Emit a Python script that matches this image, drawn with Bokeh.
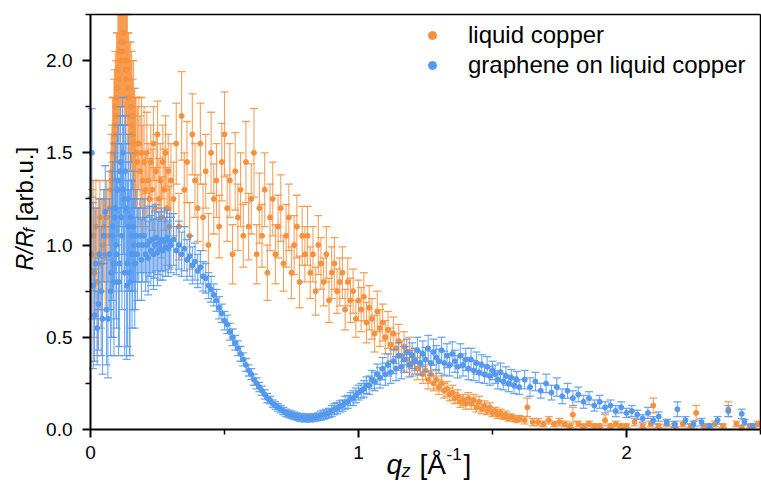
import numpy as np
from bokeh.plotting import figure
from bokeh.models import (Range1d, FixedTicker, NumeralTickFormatter, Label,
                          Legend, LegendItem, ColumnDataSource, LinearAxis)
from bokeh.embed import file_html
from bokeh.resources import INLINE

# ---------------- data ----------------
# q grid, low-q part (shared by both series)
q_a = [0.005, 0.01, 0.015, 0.02, 0.025, 0.03, 0.035, 0.04, 0.045, 0.05,
       0.055, 0.06, 0.065, 0.07, 0.075, 0.08, 0.085, 0.09, 0.095, 0.10,
       0.105, 0.11, 0.115, 0.12, 0.125, 0.13, 0.135, 0.14, 0.145, 0.15,
       0.155, 0.16, 0.165, 0.17, 0.175, 0.18, 0.185, 0.19, 0.195, 0.20,
       0.205, 0.21, 0.215, 0.22, 0.225, 0.23, 0.235, 0.24, 0.245, 0.25,
       0.255, 0.26, 0.265, 0.27, 0.275, 0.28, 0.285, 0.29, 0.295, 0.30]
# extra q points inside the first peak (shared by both series)
q_pk = [0.0775, 0.0825, 0.0875, 0.0925, 0.0975, 0.1025, 0.1075, 0.1125, 0.1175, 0.1225,
        0.1275, 0.1325, 0.1375, 0.1425, 0.1475, 0.1525, 0.1575, 0.1625, 0.1675]
# q grid, mid part (shared by both series)
q_b = [0.31, 0.32, 0.33, 0.34, 0.35, 0.36, 0.37, 0.38, 0.39, 0.40,
       0.41, 0.42, 0.43, 0.44, 0.45, 0.46, 0.47, 0.48, 0.49, 0.50,
       0.51, 0.52, 0.53, 0.54, 0.55, 0.56, 0.57, 0.58, 0.59, 0.60,
       0.61, 0.62, 0.63, 0.64, 0.65, 0.66, 0.67, 0.68, 0.69, 0.70,
       0.71, 0.72, 0.73, 0.74, 0.75, 0.76, 0.77, 0.78, 0.79, 0.80,
       0.81, 0.82, 0.83, 0.84, 0.85, 0.86, 0.87, 0.88, 0.89, 0.90,
       0.91, 0.92, 0.93, 0.94, 0.95, 0.96, 0.97, 0.98, 0.99, 1.00,
       1.01, 1.02, 1.03, 1.04, 1.05, 1.06, 1.07, 1.08, 1.09, 1.10,
       1.11, 1.12, 1.13, 1.14, 1.15, 1.16, 1.17, 1.18, 1.19, 1.20,
       1.21, 1.22, 1.23, 1.24, 1.25, 1.26, 1.27, 1.28, 1.29, 1.30,
       1.31, 1.32, 1.33, 1.34, 1.35, 1.36, 1.37, 1.38, 1.39, 1.40,
       1.41, 1.42, 1.43, 1.44, 1.45, 1.46, 1.47, 1.48, 1.49, 1.50,
       1.51, 1.52, 1.53, 1.54, 1.55, 1.56, 1.57, 1.58, 1.59, 1.60]

# liquid copper
cu_a = [0.95, 1.05, 0.85, 1.10, 0.80, 0.95, 1.15, 0.90, 1.00, 1.10,
        0.95, 1.15, 1.05, 1.20, 1.30, 1.40, 1.55, 1.65, 1.70, 1.85,
        1.90, 2.00, 2.10, 2.05, 2.15, 1.95, 2.00, 1.85, 1.80, 1.75,
        1.65, 1.70, 1.55, 1.50, 1.45, 1.55, 1.40, 1.50, 1.35, 1.45,
        1.30, 1.50, 1.35, 1.25, 1.45, 1.30, 1.55, 1.20, 1.40, 1.60,
        1.25, 1.35, 1.15, 1.45, 1.30, 1.50, 1.20, 1.40, 1.10, 1.35]
cu_a_err = [0.35, 0.30, 0.35, 0.25, 0.40, 0.30, 0.20, 0.35, 0.25, 0.20,
            0.30, 0.20, 0.25, 0.20, 0.20, 0.25, 0.25, 0.30, 0.30, 0.30,
            0.35, 0.35, 0.35, 0.35, 0.35, 0.35, 0.30, 0.30, 0.30, 0.35,
            0.35, 0.30, 0.30, 0.30, 0.30, 0.25, 0.30, 0.30, 0.30, 0.30,
            0.20, 0.22, 0.20, 0.22, 0.20, 0.22, 0.20, 0.22, 0.20, 0.18,
            0.22, 0.20, 0.22, 0.20, 0.22, 0.20, 0.22, 0.20, 0.22, 0.20]
cu_pk = [1.35, 1.50, 1.60, 1.75, 1.80, 1.95, 2.05, 2.00, 2.15, 2.10,
         2.00, 1.90, 1.95, 1.80, 1.70, 1.75, 1.60, 1.55, 1.50]
cu_pk_err = [0.25, 0.30, 0.30, 0.30, 0.35, 0.35, 0.35, 0.35, 0.35, 0.35,
             0.35, 0.35, 0.30, 0.35, 0.30, 0.30, 0.30, 0.30, 0.30]
cu_b = [1.25, 1.55, 1.10, 1.70, 1.30, 1.45, 1.05, 1.60, 1.35, 1.20,
        1.55, 1.15, 1.40, 1.00, 1.50, 1.25, 1.35, 1.10, 1.45, 1.60,
        1.20, 1.35, 0.95, 1.40, 1.15, 1.30, 1.05, 1.45, 1.10, 1.25,
        1.50, 0.95, 1.20, 1.05, 1.30, 0.85, 1.15, 1.25, 0.95, 1.10,
        1.20, 0.90, 1.05, 1.15, 0.85, 1.00, 1.10, 0.80, 1.05, 0.95,
        1.05, 0.85, 0.95, 0.75, 1.00, 0.90, 0.80, 0.95, 0.70, 0.85,
        0.90, 0.75, 0.80, 0.85, 0.65, 0.80, 0.70, 0.75, 0.60, 0.70,
        0.65, 0.72, 0.58, 0.66, 0.60, 0.52, 0.64, 0.55, 0.58, 0.50,
        0.54, 0.46, 0.52, 0.44, 0.48, 0.40, 0.45, 0.38, 0.42, 0.36,
        0.38, 0.33, 0.36, 0.30, 0.32, 0.27, 0.30, 0.25, 0.27, 0.23,
        0.25, 0.21, 0.22, 0.19, 0.20, 0.17, 0.18, 0.15, 0.16, 0.14,
        0.17, 0.14, 0.16, 0.12, 0.15, 0.11, 0.13, 0.10, 0.12, 0.09,
        0.10, 0.08, 0.09, 0.07, 0.08, 0.06, 0.07, 0.06, 0.05, 0.06]
cu_b_err = [0.20, 0.22, 0.18, 0.24, 0.20, 0.22, 0.18, 0.22, 0.20, 0.18,
            0.22, 0.18, 0.20, 0.17, 0.22, 0.19, 0.20, 0.17, 0.21, 0.23,
            0.18, 0.20, 0.16, 0.21, 0.18, 0.20, 0.17, 0.22, 0.18, 0.19,
            0.24, 0.16, 0.19, 0.17, 0.20, 0.15, 0.18, 0.20, 0.16, 0.17,
            0.18, 0.15, 0.17, 0.18, 0.14, 0.16, 0.17, 0.14, 0.16, 0.15,
            0.16, 0.14, 0.15, 0.13, 0.16, 0.14, 0.13, 0.15, 0.12, 0.14,
            0.14, 0.12, 0.13, 0.14, 0.11, 0.13, 0.12, 0.12, 0.10, 0.11,
            0.12, 0.13, 0.11, 0.12, 0.11, 0.10, 0.11, 0.10, 0.10, 0.09,
            0.10, 0.09, 0.09, 0.08, 0.09, 0.08, 0.08, 0.07, 0.08, 0.07,
            0.06, 0.06, 0.06, 0.05, 0.05, 0.05, 0.05, 0.04, 0.05, 0.04,
            0.04, 0.04, 0.04, 0.035, 0.04, 0.03, 0.035, 0.03, 0.03, 0.03,
            0.03, 0.03, 0.03, 0.025, 0.03, 0.025, 0.025, 0.02, 0.025, 0.02,
            0.02, 0.02, 0.02, 0.015, 0.02, 0.015, 0.015, 0.015, 0.01, 0.015]
q_cu_tail = [1.62, 1.63, 1.65, 1.67, 1.69, 1.71, 1.73, 1.75, 1.77, 1.79,
             1.80, 1.82, 1.84, 1.86, 1.88, 1.90, 1.92, 1.94, 1.96, 1.98,
             2.00, 2.03, 2.06, 2.09, 2.10, 2.12, 2.15, 2.18, 2.21, 2.24,
             2.26, 2.29, 2.33, 2.36, 2.38, 2.41, 2.43, 2.46, 2.49]
cu_tail = [0.05, 0.12, 0.04, 0.04, 0.03, 0.05, 0.03, 0.04, 0.03, 0.02,
           0.08, 0.03, 0.02, 0.03, 0.02, 0.02, 0.05, 0.02, 0.03, 0.02,
           0.02, 0.04, 0.02, 0.03, 0.13, 0.02, 0.03, 0.02, 0.03, 0.02,
           0.09, 0.02, 0.03, 0.02, 0.11, 0.03, 0.01, 0.02, 0.03]
cu_tail_err = [0.02, 0.05, 0.02, 0.02, 0.015, 0.02, 0.015, 0.02, 0.015, 0.01,
               0.04, 0.015, 0.01, 0.015, 0.01, 0.01, 0.03, 0.01, 0.015, 0.01,
               0.01, 0.02, 0.01, 0.015, 0.04, 0.01, 0.015, 0.01, 0.015, 0.01,
               0.04, 0.01, 0.015, 0.01, 0.04, 0.015, 0.01, 0.01, 0.015]

# graphene on liquid copper
gr_a = [1.50, 0.78, 0.62, 0.90, 0.55, 0.68, 0.95, 0.75, 0.60, 1.05,
        1.18, 0.65, 0.60, 0.95, 0.75, 1.05, 0.90, 1.15, 1.00, 1.30,
        0.80, 1.40, 1.15, 1.50, 1.25, 1.40, 0.78, 1.25, 0.85, 1.15,
        0.95, 1.10, 0.90, 1.05, 0.95, 1.00, 1.05, 0.92, 1.00, 1.05,
        0.95, 1.00, 0.93, 1.02, 0.97, 1.03, 0.95, 1.00, 1.04, 0.96,
        1.01, 0.98, 1.03, 0.97, 1.02, 0.99, 1.04, 0.98, 1.02, 1.00]
gr_a_err = [0.24, 0.45, 0.25, 0.30, 0.20, 0.25, 0.30, 0.35, 0.30, 0.25,
            0.25, 0.30, 0.32, 0.30, 0.35, 0.35, 0.40, 0.35, 0.40, 0.30,
            0.40, 0.30, 0.40, 0.30, 0.40, 0.30, 0.40, 0.35, 0.45, 0.35,
            0.40, 0.30, 0.35, 0.25, 0.25, 0.20, 0.20, 0.22, 0.20, 0.20,
            0.20, 0.20, 0.20, 0.19, 0.19, 0.18, 0.19, 0.18, 0.18, 0.18,
            0.17, 0.17, 0.17, 0.16, 0.16, 0.16, 0.15, 0.15, 0.15, 0.15]
gr_pk = [0.85, 1.10, 0.80, 1.20, 0.95, 1.35, 0.90, 1.45, 1.05, 1.30,
         0.85, 1.20, 0.90, 1.10, 0.80, 1.05, 0.95, 1.00, 0.90]
gr_pk_err = [0.35, 0.35, 0.40, 0.35, 0.40, 0.30, 0.45, 0.30, 0.40, 0.35,
             0.45, 0.35, 0.45, 0.35, 0.40, 0.30, 0.30, 0.25, 0.25]
gr_b = [1.03, 0.97, 1.00, 0.95, 0.98, 0.92, 0.94, 0.89, 0.91, 0.86,
        0.88, 0.83, 0.82, 0.78, 0.76, 0.73, 0.70, 0.66, 0.63, 0.59,
        0.57, 0.53, 0.50, 0.47, 0.44, 0.41, 0.38, 0.35, 0.32, 0.30,
        0.27, 0.25, 0.23, 0.21, 0.19, 0.17, 0.16, 0.14, 0.13, 0.12,
        0.11, 0.10, 0.09, 0.085, 0.08, 0.075, 0.07, 0.065, 0.065, 0.06,
        0.065, 0.06, 0.065, 0.065, 0.07, 0.075, 0.08, 0.085, 0.09, 0.10,
        0.11, 0.115, 0.125, 0.13, 0.145, 0.15, 0.165, 0.17, 0.185, 0.20,
        0.21, 0.22, 0.24, 0.24, 0.27, 0.26, 0.30, 0.28, 0.33, 0.30,
        0.35, 0.31, 0.37, 0.33, 0.40, 0.34, 0.38, 0.42, 0.35, 0.40,
        0.37, 0.43, 0.36, 0.41, 0.38, 0.44, 0.36, 0.42, 0.39, 0.37,
        0.43, 0.36, 0.40, 0.35, 0.41, 0.37, 0.34, 0.40, 0.35, 0.38,
        0.33, 0.38, 0.32, 0.36, 0.31, 0.35, 0.30, 0.34, 0.29, 0.32,
        0.30, 0.27, 0.31, 0.26, 0.29, 0.25, 0.28, 0.24, 0.27, 0.23]
gr_b_err = [0.14, 0.13, 0.13, 0.12, 0.12, 0.11, 0.11, 0.10, 0.10, 0.09,
            0.09, 0.08, 0.08, 0.07, 0.07, 0.06, 0.06, 0.06, 0.05, 0.05,
            0.05, 0.045, 0.045, 0.04, 0.04, 0.04, 0.035, 0.035, 0.03, 0.03,
            0.03, 0.03, 0.025, 0.025, 0.025, 0.025, 0.02, 0.02, 0.02, 0.02,
            0.02, 0.02, 0.02, 0.02, 0.02, 0.02, 0.02, 0.02, 0.02, 0.02,
            0.02, 0.02, 0.02, 0.02, 0.02, 0.025, 0.025, 0.025, 0.025, 0.03,
            0.03, 0.03, 0.03, 0.03, 0.035, 0.035, 0.035, 0.04, 0.04, 0.04,
            0.04, 0.045, 0.045, 0.05, 0.05, 0.05, 0.055, 0.055, 0.06, 0.06,
            0.06, 0.06, 0.065, 0.065, 0.07, 0.065, 0.07, 0.07, 0.065, 0.07,
            0.07, 0.07, 0.065, 0.07, 0.065, 0.07, 0.065, 0.07, 0.065, 0.065,
            0.07, 0.065, 0.065, 0.06, 0.065, 0.06, 0.06, 0.065, 0.06, 0.06,
            0.06, 0.06, 0.055, 0.06, 0.055, 0.055, 0.05, 0.055, 0.05, 0.05,
            0.05, 0.05, 0.05, 0.045, 0.05, 0.045, 0.045, 0.045, 0.045, 0.04]
q_gr_tail = [1.62, 1.64, 1.66, 1.68, 1.70, 1.72, 1.74, 1.76, 1.78, 1.80,
             1.82, 1.84, 1.86, 1.88, 1.90, 1.92, 1.94, 1.96, 1.98, 2.00,
             2.02, 2.04, 2.06, 2.08, 2.10, 2.12, 2.15, 2.18, 2.19, 2.22,
             2.25, 2.28, 2.31, 2.34, 2.38, 2.43, 2.44, 2.47]
gr_tail = [0.27, 0.23, 0.26, 0.21, 0.25, 0.20, 0.23, 0.18, 0.21, 0.17,
           0.19, 0.15, 0.17, 0.13, 0.15, 0.12, 0.13, 0.10, 0.12, 0.09,
           0.10, 0.08, 0.06, 0.09, 0.05, 0.07, 0.04, 0.03, 0.11, 0.05,
           0.03, 0.04, 0.02, 0.05, 0.10, 0.085, 0.04, 0.02]
gr_tail_err = [0.05, 0.05, 0.05, 0.04, 0.05, 0.04, 0.05, 0.04, 0.04, 0.04,
               0.04, 0.035, 0.035, 0.03, 0.035, 0.03, 0.03, 0.03, 0.03, 0.025,
               0.03, 0.025, 0.02, 0.03, 0.02, 0.025, 0.015, 0.015, 0.04, 0.02,
               0.015, 0.02, 0.01, 0.02, 0.03, 0.025, 0.015, 0.01]

# axis extents and tick labels
X_MAX = 2.5
Y_MAX = 2.25
x_ticks = [0, 1, 2]
x_minor = [0.5, 1.5, 2.5]
y_ticks = [0.0, 0.5, 1.0, 1.5, 2.0]
y_minor = [0.25, 0.75, 1.25, 1.75, 2.25]

# ---------------- layout constants (pixels) ----------------
W, H = 761, 484
FRAME_L, FRAME_R, FRAME_T, FRAME_B = 90, 760, 14, 429
ORANGE = "#F7913D"
BLUE = "#5599EE"
FONT = "Liberation Sans"

# the plot frame covers the whole canvas; the visible "box" is drawn with axes
sx = (FRAME_R - FRAME_L) / X_MAX          # px per unit q
sy = (FRAME_B - FRAME_T) / Y_MAX          # px per unit R
x_range = Range1d(-FRAME_L / sx, X_MAX + (W - FRAME_R) / sx)
y_range = Range1d(-(H - FRAME_B) / sy, Y_MAX + FRAME_T / sy)


def make_sources(q, v, e):
    q = np.asarray(q, float)
    v = np.asarray(v, float)
    e = np.asarray(e, float)
    hi = v + e
    lo = v - e
    bars = ColumnDataSource(dict(q=q, lo=np.clip(lo, 0, Y_MAX), hi=np.clip(hi, 0, Y_MAX)))
    up = hi <= Y_MAX
    dn = lo >= 0
    caps_hi = ColumnDataSource(dict(q=q[up], y=hi[up]))
    caps_lo = ColumnDataSource(dict(q=q[dn], y=lo[dn]))
    pts = ColumnDataSource(dict(q=q, v=v))
    return bars, caps_hi, caps_lo, pts


p = figure(width=W, height=H, output_backend="svg", toolbar_location=None,
           x_range=x_range, y_range=y_range, min_border=0)
p.title.visible = False
p.background_fill_color = "white"
p.border_fill_color = "white"
p.outline_line_color = None
p.xgrid.visible = False
p.ygrid.visible = False


def draw(q, v, e, color):
    bars, caps_hi, caps_lo, pts = make_sources(q, v, e)
    p.segment(x0="q", y0="lo", x1="q", y1="hi", source=bars,
              line_color=color, line_width=1.1, line_alpha=0.85)
    p.scatter(x="q", y="y", source=caps_hi, marker="dash", size=8,
              line_color=color, line_width=1.3, line_alpha=0.85)
    p.scatter(x="q", y="y", source=caps_lo, marker="dash", size=8,
              line_color=color, line_width=1.3, line_alpha=0.85)
    return p.scatter(x="q", y="v", source=pts, size=5, fill_color=color, line_color=color)


r_cu = draw(q_a + q_pk + q_b + q_cu_tail, cu_a + cu_pk + cu_b + cu_tail,
            cu_a_err + cu_pk_err + cu_b_err + cu_tail_err, ORANGE)
r_gr = draw(q_a + q_pk + q_b + q_gr_tail, gr_a + gr_pk + gr_b + gr_tail,
            gr_a_err + gr_pk_err + gr_b_err + gr_tail_err, BLUE)

# main axes, pinned at the data origin
xa, ya = p.xaxis[0], p.yaxis[0]
xa.fixed_location = 0
xa.bounds = (0, X_MAX)
ya.fixed_location = 0
ya.bounds = (0, Y_MAX)
for ax in (xa, ya):
    ax.axis_line_width = 2
    ax.axis_line_color = "black"
    ax.major_tick_line_width = 2
    ax.minor_tick_line_width = 1.5
    ax.major_tick_out = 8
    ax.major_tick_in = 0
    ax.minor_tick_out = 5
    ax.minor_tick_in = 0
    ax.major_label_text_font = FONT
    ax.major_label_text_font_size = "19px"
    ax.major_label_text_color = "black"
xa.major_label_standoff = 8
ya.major_label_standoff = 10
xa.ticker = FixedTicker(ticks=x_ticks, minor_ticks=x_minor)
ya.ticker = FixedTicker(ticks=y_ticks, minor_ticks=y_minor)
xa.formatter = NumeralTickFormatter(format="0")
ya.formatter = NumeralTickFormatter(format="0.0")

# top and right edges of the box
top = LinearAxis(fixed_location=Y_MAX, bounds=(0, X_MAX), ticker=FixedTicker(ticks=[]),
                 axis_line_width=1.5, axis_line_color="black",
                 major_tick_line_color=None, minor_tick_line_color=None,
                 major_label_text_font_size="0px")
right = LinearAxis(fixed_location=X_MAX, bounds=(0, Y_MAX), ticker=FixedTicker(ticks=[]),
                   axis_line_width=1.5, axis_line_color="black",
                   major_tick_line_color=None, minor_tick_line_color=None,
                   major_label_text_font_size="0px")
p.add_layout(top, "above")
p.add_layout(right, "right")


# axis titles built from text pieces (italic symbols, sub/superscripts)
def piece(text, dx, dy, size, italic=False, angle=0.0):
    p.add_layout(Label(x=0, y=0, x_units="data", y_units="data",
                       x_offset=dx, y_offset=dy, text=text, angle=angle,
                       text_font=FONT, text_font_size=size,
                       text_font_style="italic" if italic else "normal",
                       text_baseline="alphabetic", text_align="left",
                       text_color="black"))


# x title: q_z [Å^-1]
piece("q", 296, -35, "28px", italic=True)
piece("z", 311, -41, "18px", italic=True)
piece("[Å", 329, -35, "28px")
piece("-1", 356, -24, "17px")
piece("]", 373, -35, "28px")

# y title: R/R_f [arb.u.]  (rotated)
A = np.pi / 2
piece("R/R", -66, 159, "23px", italic=True, angle=A)
piece("f", -61, 197, "16px", italic=True, angle=A)
piece("[arb.u.]", -66, 208, "24px", angle=A)

# legend
legend = Legend(items=[LegendItem(label="liquid copper", renderers=[r_cu]),
                       LegendItem(label="graphene on liquid copper", renderers=[r_gr])],
                location=(422, 405), orientation="vertical")
legend.border_line_color = None
legend.background_fill_alpha = 0
legend.label_text_font = FONT
legend.label_text_font_size = "24px"
legend.label_text_color = "black"
legend.glyph_width = 20
legend.glyph_height = 28
legend.label_height = 28
legend.label_standoff = 26
legend.spacing = 2
legend.padding = 0
legend.margin = 0
p.add_layout(legend)

open("out.html", "w").write(file_html(p, INLINE))
